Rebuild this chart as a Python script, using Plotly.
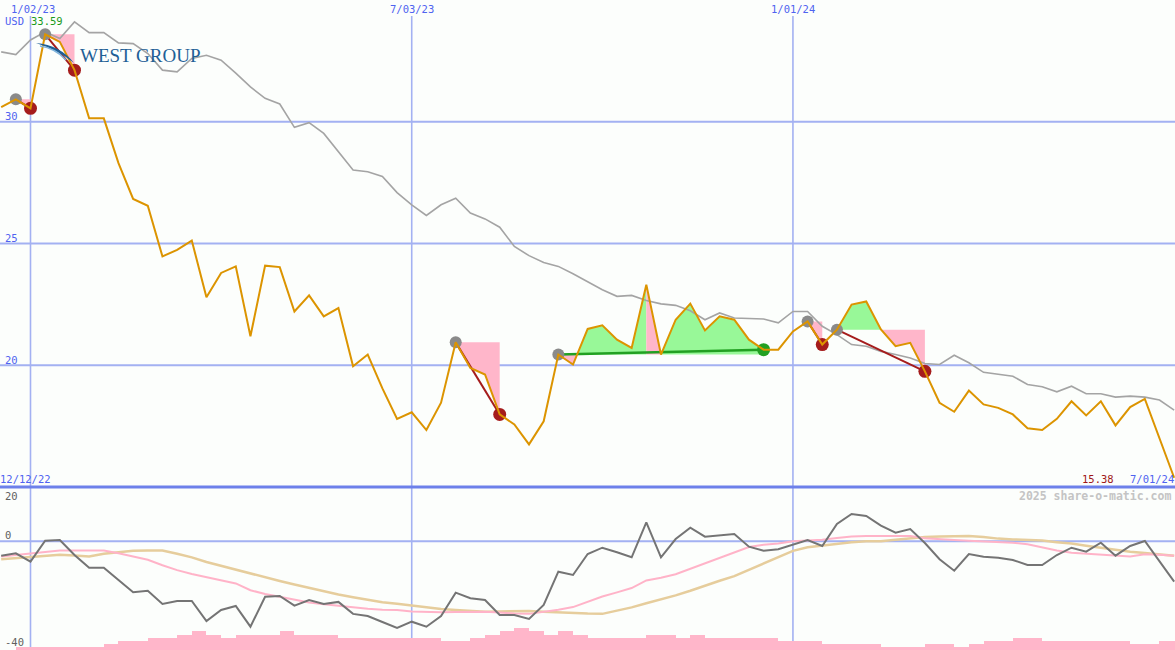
import plotly.graph_objects as go
import pandas as pd

# ---------------- data ----------------
start_date = "2022-12-19"
n_weeks = 81
dates = pd.date_range(start_date, periods=n_weeks, freq="7D")

price = [30.60, 30.92, 30.55, 33.59, 33.28, 32.12, 30.14, 30.14, 28.30, 26.83,
         26.55, 24.47, 24.74, 25.12, 22.79, 23.79, 24.06, 21.19, 24.09, 24.03,
         22.21, 22.87, 22.01, 22.35, 19.96, 20.44, 19.05, 17.80, 18.07, 17.34,
         18.46, 20.94, 19.89, 19.62, 17.98, 17.57, 16.75, 17.70, 20.44, 20.03,
         21.49, 21.64, 21.05, 20.71, 23.31, 20.44, 21.87, 22.53, 21.43, 22.01,
         21.87, 21.05, 20.64, 20.64, 21.39, 21.80, 20.85, 21.46, 22.49, 22.62,
         21.47, 20.78, 20.92, 19.75, 18.46, 18.09, 18.96, 18.39, 18.25, 17.98,
         17.41, 17.34, 17.80, 18.52, 17.94, 18.52, 17.53, 18.28, 18.62, 17.00,
         15.38]

moving_avg = [32.87, 32.76, 33.36, 33.69, 33.42, 34.10, 33.66, 33.66, 33.24, 33.21,
              32.80, 32.12, 32.05, 32.60, 32.73, 32.53, 32.00, 31.43, 30.96, 30.73,
              29.77, 29.96, 29.52, 28.77, 28.02, 27.95, 27.75, 27.09, 26.59, 26.15,
              26.59, 26.86, 26.25, 26.01, 25.67, 24.88, 24.50, 24.22, 24.06, 23.76,
              23.44, 23.10, 22.83, 22.87, 22.66, 22.52, 22.46, 22.24, 21.87, 22.15,
              21.94, 21.91, 21.90, 21.74, 22.21, 22.21, 21.60, 21.26, 20.85, 20.78,
              20.57, 20.44, 20.30, 20.07, 20.03, 20.41, 20.10, 19.71, 19.62, 19.55,
              19.21, 19.12, 18.91, 19.14, 18.83, 18.83, 18.69, 18.73, 18.69, 18.57,
              18.16]

oscillator = [-5.28, -4.40, -7.49, 0.24, 0.49, -5.03, -9.70, -9.70, -14.23, -18.76,
              -18.17, -23.06, -21.96, -21.96, -29.32, -25.27, -23.80, -31.42, -20.38, -20.12,
              -23.69, -21.60, -23.06, -22.30, -26.70, -27.50, -29.70, -31.90, -29.58, -31.42,
              -27.48, -18.90, -20.96, -21.59, -27.11, -27.11, -28.58, -23.43, -11.17, -12.39,
              -4.66, -2.34, -4.03, -5.87, 7.01, -5.87, 0.86, 5.02, 1.71, 2.33,
              2.70, -1.97, -3.44, -2.93, -1.35, 0.49, -1.71, 6.38, 10.06, 9.33,
              5.76, 3.18, 4.54, -0.60, -6.61, -10.80, -4.66, -5.65, -6.02, -6.87,
              -8.71, -8.71, -5.03, -2.34, -3.81, -0.50, -5.28, -1.71, 0.13, -7.49,
              -14.85]

signal_fast = [-5.6, -5.0, -4.6, -3.9, -3.4, -3.4, -3.4, -3.4, -4.4, -5.5,
               -6.8, -8.8, -10.6, -12.0, -13.2, -14.2, -15.5, -18.0, -19.4, -20.4,
               -21.5, -22.5, -23.2, -23.8, -24.3, -24.8, -25.2, -25.3, -25.8, -26.0,
               -26.1, -26.0, -26.0, -25.9, -26.2, -26.6, -26.7, -26.0, -25.2, -24.2,
               -22.3, -20.3, -18.8, -17.2, -14.4, -13.4, -12.1, -10.1, -8.0, -6.0,
               -4.2, -2.1, -1.3, -0.8, 0.0, 0.2, 0.6, 1.2, 1.8, 2.0,
               2.0, 2.0, 2.0, 1.1, 0.7, 0.5, 0.2, 0.0, -0.1, -0.5,
               -1.1, -2.2, -3.4, -4.2, -4.6, -4.8, -5.3, -5.6, -4.8, -4.9,
               -5.3]

signal_slow = [-6.6, -6.2, -5.9, -5.3, -4.9, -5.2, -5.6, -4.6, -4.0, -3.5,
               -3.4, -3.4, -4.6, -5.9, -7.6, -9.0, -10.4, -12.0, -13.2, -14.6,
               -15.9, -17.2, -18.5, -19.6, -20.6, -21.6, -22.4, -23.0, -23.7, -24.3,
               -24.9, -25.3, -25.6, -25.9, -25.8, -25.6, -25.6, -25.9, -26.2, -26.4,
               -26.6, -26.7, -25.6, -24.3, -22.8, -21.4, -19.9, -18.2, -16.3, -14.5,
               -12.8, -10.5, -8.0, -5.8, -3.5, -2.2, -1.6, -0.9, -0.3, 0.0,
               0.0, 0.6, 1.2, 1.6, 1.8, 2.0, 2.0, 1.6, 1.0, 0.7,
               0.5, 0.3, -0.3, -0.8, -1.6, -2.4, -3.0, -3.8, -4.3, -4.7,
               -5.3]

volume = [0, 27, 27, 27, 27, 27, 27, 60, 93, 93,
          123, 123, 150, 190, 150, 123, 150, 150, 150, 190,
          150, 150, 150, 117, 117, 117, 117, 117, 117, 117,
          90, 90, 117, 150, 190, 217, 190, 150, 190, 150,
          117, 117, 117, 117, 150, 150, 117, 150, 117, 117,
          117, 117, 117, 90, 90, 90, 60, 60, 60, 60,
          27, 27, 27, 60, 60, 27, 60, 90, 90, 117,
          117, 90, 90, 90, 90, 90, 90, 60, 60, 90,
          90]

entry_dates = ["2022-12-26", "2023-01-09", "2023-07-24", "2023-09-11", "2024-01-08", "2024-01-22"]
exit_dates = ["2023-01-02", "2023-01-23", "2023-08-14", "2023-12-18", "2024-01-15", "2024-03-04"]
trade_win = [False, False, False, True, False, False]

price_ticks = [30, 25, 20]
osc_ticks = [20, 0, -40]
date_ticks = ["2023-01-02", "2023-07-03", "2024-01-01"]
date_tick_labels = ["1/02/23", "7/03/23", "1/01/24"]
first_date_label = "12/12/22"
last_date_label = "7/01/24"
last_price_label = "15.38"
high_label = "33.59"
currency_label = "USD"
brand_label = "WEST GROUP"
credit_label = "2025 share-o-matic.com"

# ---------------- styles ----------------
W, H = 1175, 650
BG = "#fcfefc"
GRID = "#a3b1f2"
BORDER = "#6d80ea"
ORANGE = "#dc9400"
MA_GRAY = "#a4a4a4"
PINK = "#ffb6ca"
GREEN_FILL = "#98f898"
RED = "#a51c1c"
GREEN = "#22a022"
ENTRY_GRAY = "#8a8a8a"
BLUE_TXT = "#4f63f0"
MONO = "DejaVu Sans Mono"
split = 1 - 487 / H


def px(x):
    return x / W


def py(y):
    return 1 - y / H


fig = go.Figure()

# volume bars (lower panel)
fig.add_trace(go.Bar(x=dates, y=volume, yaxis="y3", width=7 * 86400000, offset=0,
                     marker=dict(color=PINK, line=dict(width=0)), showlegend=False,
                     hoverinfo="skip"))

# oscillators
fig.add_trace(go.Scatter(x=dates, y=signal_slow, yaxis="y2", mode="lines",
                         line=dict(color="#e6cd9c", width=2.5), showlegend=False))
fig.add_trace(go.Scatter(x=dates, y=signal_fast, yaxis="y2", mode="lines",
                         line=dict(color="#ffb3c8", width=2), showlegend=False))
fig.add_trace(go.Scatter(x=dates, y=oscillator, yaxis="y2", mode="lines",
                         line=dict(color="#747474", width=2), showlegend=False))

# trade fills: green where the week closes above the entry level, pink otherwise
idx = {d.strftime("%Y-%m-%d"): i for i, d in enumerate(dates)}
gx, gy, kx, ky = [], [], [], []
for ed, xd in zip(entry_dates, exit_dates):
    a, b = idx[ed], idx[xd]
    L = price[a]
    for k in range(a, b):
        x0, x1 = dates[k], dates[k + 1]
        p0, p1 = price[k], price[k + 1]
        if (p0 - L) * (p1 - L) < 0:
            t = (L - p0) / (p1 - p0)
            xm = x0 + (x1 - x0) * t
            pieces = [(x0, p0, xm, L, p0 > L), (xm, L, x1, p1, p1 > L)]
        else:
            pieces = [(x0, p0, x1, p1, p1 > L)]
        for xa, pa, xb, pb, up in pieces:
            tx, ty = (gx, gy) if up else (kx, ky)
            tx += [xa, xa, xb, xb, xa, None]
            ty += [L, pa, pb, L, L, None]

fig.add_trace(go.Scatter(x=gx, y=gy, mode="lines", fill="toself", fillcolor=GREEN_FILL,
                         line=dict(width=0), showlegend=False, hoverinfo="skip"))
fig.add_trace(go.Scatter(x=kx, y=ky, mode="lines", fill="toself", fillcolor=PINK,
                         line=dict(width=0), showlegend=False, hoverinfo="skip"))

# moving average
fig.add_trace(go.Scatter(x=dates, y=moving_avg, mode="lines",
                         line=dict(color=MA_GRAY, width=1.6), showlegend=False))

# trade lines and markers
for ed, xd, win in zip(entry_dates, exit_dates, trade_win):
    a, b = idx[ed], idx[xd]
    fig.add_trace(go.Scatter(x=[dates[a], dates[b]], y=[price[a], price[b]], mode="lines",
                             line=dict(color=GREEN if win else RED, width=2.5 if win else 2),
                             showlegend=False))
for ed, xd, win in zip(entry_dates, exit_dates, trade_win):
    a, b = idx[ed], idx[xd]
    fig.add_trace(go.Scatter(x=[dates[a]], y=[price[a]], mode="markers",
                             marker=dict(color=ENTRY_GRAY, size=12, line=dict(width=0)),
                             showlegend=False))
    fig.add_trace(go.Scatter(x=[dates[b]], y=[price[b]], mode="markers",
                             marker=dict(color=GREEN if win else RED, size=13, line=dict(width=0)),
                             showlegend=False))

# price line
fig.add_trace(go.Scatter(x=dates, y=price, mode="lines",
                         line=dict(color=ORANGE, width=2), showlegend=False))

# ---------------- shapes ----------------
shapes = []
for v in price_ticks:
    shapes.append(dict(type="line", xref="paper", x0=0, x1=1, yref="y", y0=v, y1=v,
                       line=dict(color=GRID, width=2), layer="below"))
shapes.append(dict(type="line", xref="paper", x0=0, x1=1, yref="y2", y0=0, y1=0,
                   line=dict(color=GRID, width=2), layer="below"))
for d in date_ticks:
    shapes.append(dict(type="line", xref="x", x0=d, x1=d, yref="paper", y0=0, y1=py(16),
                       line=dict(color=GRID, width=1.6), layer="below"))
shapes.append(dict(type="line", xref="paper", x0=0, x1=1, yref="paper", y0=split, y1=split,
                   line=dict(color=BORDER, width=3), layer="above"))
# logo swoosh
shapes.append(dict(type="path", xref="paper", yref="paper",
                   path=f"M {px(36)},{py(43)} Q {px(60)},{py(45)} {px(74)},{py(63)} "
                        f"Q {px(58)},{py(50)} {px(36)},{py(43)} Z",
                   fillcolor="#1e5f96", line=dict(width=0), layer="above"))
shapes.append(dict(type="path", xref="paper", yref="paper",
                   path=f"M {px(40)},{py(46)} Q {px(55)},{py(48)} {px(66)},{py(60)}",
                   line=dict(color="#7fb4dc", width=1.5), layer="above"))

# ---------------- annotations ----------------
ann = []


def text(t, cx, cy, color, size=10.5, family=MONO, xanchor="center"):
    ann.append(dict(text=t, x=px(cx), y=py(cy), xref="paper", yref="paper", showarrow=False,
                    xanchor=xanchor, yanchor="middle",
                    font=dict(family=family, size=size, color=color)))


tick_px = [33, 412, 793]
for lbl, cx in zip(date_tick_labels, tick_px):
    text(lbl, cx, 8.5, BLUE_TXT)
text(currency_label, 14.5, 21, BLUE_TXT)
text(high_label, 46.5, 21, "#1a9a1a")
for v, cy in zip(price_ticks, [116, 238, 360]):
    text(str(v), 11.5, cy, BLUE_TXT)
text(first_date_label, 25.5, 479, BLUE_TXT)
text(last_price_label, 1097.5, 479, "#a01818")
text(last_date_label, 1151.5, 479, BLUE_TXT)
text("<b>" + credit_label + "</b>", 1095, 496, "#c4c4c4", size=11.5)
for v, cx, cy in zip(osc_ticks, [11, 8, 14], [495.5, 535, 642]):
    text(str(v), cx, cy, "#606060")
text(brand_label, 78, 55, "#1e6096", size=19, family="Liberation Serif", xanchor="left")

fig.update_layout(
    width=W, height=H, margin=dict(l=0, r=0, t=0, b=0),
    paper_bgcolor=BG, plot_bgcolor=BG,
    xaxis=dict(range=["2022-12-18 10:30", "2024-07-01 09:40"], visible=False),
    yaxis=dict(domain=[split, 1], range=[15, 35], visible=False),
    yaxis2=dict(domain=[0, split], range=[-40, 20], visible=False, anchor="x"),
    yaxis3=dict(overlaying="y2", range=[0, 1630], visible=False, anchor="x"),
    shapes=shapes, annotations=ann, barmode="overlay", bargap=0,
    hovermode=False,
)

fig.write_html("out.html", config={"displayModeBar": False},
               post_script="document.body.style.margin='0';document.body.style.padding='0';")
